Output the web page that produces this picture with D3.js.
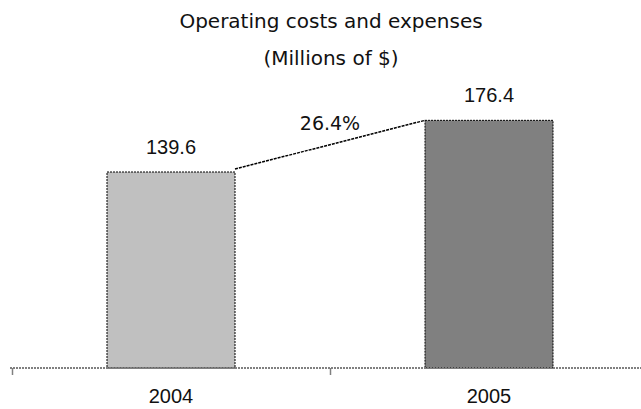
<!DOCTYPE html>
<html>
<head>
<meta charset="utf-8">
<script src="https://cdn.jsdelivr.net/npm/d3@7"></script>
<style>
  body { margin: 0; background: #fff; }
  svg { display: block; }
</style>
</head>
<body>
<svg></svg>
<script>
const years = ['2004', '2005'];
const values = [139.6, 176.4];
const barColors = ['#c0c0c0', '#808080'];
const growthLabel = '26.4%';
const titleLines = ['Operating costs and expenses', '(Millions of $)'];

const size = {w: 641, h: 409};
const svg = d3.select('svg')
    .attr('width', size.w)
    .attr('height', size.h);

const baseY = 368;
const barW = 128;

const scaleX = d3.scaleBand()
    .domain(years)
    .range([12, 648]);

const scaleY = d3.scaleLinear()
    .domain([0, 200])
    .range([baseY, 87.2]);

// title
svg.selectAll('text.title')
    .data(titleLines)
    .enter()
    .append('text')
    .classed('title', true)
    .attr('x', 331)
    .attr('y', (d, i) => 28 + i * 37)
    .attr('text-anchor', 'middle')
    .style('font-family', '"DejaVu Sans", Verdana, sans-serif')
    .style('font-size', '20px')
    .attr('fill', '#111')
    .text(d => d);

const barX = d => scaleX(d) + (scaleX.bandwidth() - barW) / 2;

// bars
svg.selectAll('rect.bar')
    .data(values)
    .enter()
    .append('rect')
    .classed('bar', true)
    .attr('x', (d, i) => barX(years[i]))
    .attr('y', d => scaleY(d))
    .attr('width', barW)
    .attr('height', d => baseY - scaleY(d))
    .attr('fill', (d, i) => barColors[i])
    .attr('stroke', '#000')
    .attr('stroke-width', 1)
    .attr('stroke-dasharray', '2,1');

// value labels
svg.selectAll('text.value')
    .data(values)
    .enter()
    .append('text')
    .classed('value', true)
    .attr('x', (d, i) => barX(years[i]) + barW / 2)
    .attr('y', d => scaleY(d) - 18)
    .attr('text-anchor', 'middle')
    .style('font-family', '"Liberation Sans", Arial, sans-serif')
    .style('font-size', '20px')
    .attr('fill', '#111')
    .text(d => d.toFixed(1));

// growth connector
const x1 = barX(years[0]) + barW, y1 = scaleY(values[0]) - 3;
const x2 = barX(years[1]), y2 = scaleY(values[1]);
svg.append('line')
    .attr('x1', x1).attr('y1', y1)
    .attr('x2', x2).attr('y2', y2)
    .attr('stroke', '#000')
    .attr('stroke-width', 1.5)
    .attr('stroke-dasharray', '3,1');

svg.append('text')
    .attr('x', (x1 + x2) / 2)
    .attr('y', (y1 + y2) / 2 - 15)
    .attr('text-anchor', 'middle')
    .style('font-family', '"DejaVu Sans", Verdana, sans-serif')
    .style('font-size', '19px')
    .attr('fill', '#111')
    .text(growthLabel);

// x axis
const axisG = svg.append('g').classed('axis-x', true);
axisG.append('line')
    .attr('x1', scaleX.range()[0] - 2)
    .attr('x2', scaleX.range()[1])
    .attr('y1', baseY)
    .attr('y2', baseY)
    .attr('stroke', '#808080')
    .attr('stroke-width', 2)
    .attr('stroke-dasharray', '2,1');

axisG.selectAll('line.tick')
    .data(years)
    .enter()
    .append('line')
    .classed('tick', true)
    .attr('x1', d => scaleX(d) + 0.5)
    .attr('x2', d => scaleX(d) + 0.5)
    .attr('y1', baseY)
    .attr('y2', baseY + 7)
    .attr('stroke', '#808080')
    .attr('stroke-width', 1.5);

axisG.selectAll('text.year')
    .data(years)
    .enter()
    .append('text')
    .classed('year', true)
    .attr('x', d => scaleX(d) + scaleX.bandwidth() / 2)
    .attr('y', 403)
    .attr('text-anchor', 'middle')
    .style('font-family', '"Liberation Sans", Arial, sans-serif')
    .style('font-size', '20px')
    .attr('fill', '#111')
    .text(d => d);
</script>
</body>
</html>
